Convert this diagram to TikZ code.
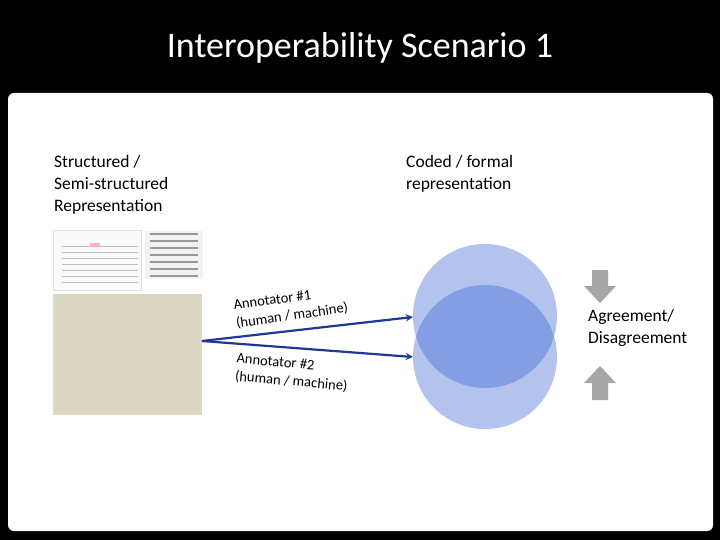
\documentclass[tikz,border=0pt]{standalone}
\usepackage{fontspec}
\setmainfont{Carlito}
\begin{document}
\begin{tikzpicture}[x=1pt,y=-1pt,
  lbl/.style={align=left,anchor=north west,font=\fontsize{17.5}{22}\selectfont,inner sep=0},
  ann/.style={align=left,font=\fontsize{14.5}{18}\selectfont,inner sep=0},
  conn/.style={draw={rgb,255:red,31;green,56;blue,150},line width=2.2pt,-stealth},
  grayarrow/.style={fill={rgb,255:red,166;green,166;blue,166},draw=none}]
\fill[black] (0,0) rectangle (720,540);
\useasboundingbox (0,0) rectangle (720,540);
\fill[white,rounded corners=6] (8,93) rectangle (713,531);
\node[white,font=\fontsize{36}{40}\selectfont] (title) at (360,48) {Interoperability Scenario 1};
\node[lbl] (struct) at (54,155) {Structured /\\Semi-structured\\Representation};
\node[lbl] (coded) at (406,155) {Coded / formal\\representation};
% thumbnail
\node[draw={rgb,255:red,225;green,225;blue,225},fill={rgb,255:red,250;green,250;blue,250},minimum width=88,minimum height=60,inner sep=0,anchor=north west] (thumb) at (53,230) {};
\foreach \yy in {246,252,258,264,270,276,282}{\draw[gray!50,line width=0.6pt] (62,\yy) -- (138,\yy);}
\fill[red!30] (90,243) rectangle (100,247);
\node[fill={rgb,255:red,242;green,242;blue,242},minimum width=58,minimum height=48,inner sep=0,anchor=north west] (note) at (145,231) {};
\foreach \yy in {234,241,248,255,262,269,276}{\draw[gray!80,line width=1.2pt] (150,\yy) -- (198,\yy);}
\node[fill={rgb,255:red,220;green,216;blue,196},minimum width=149,minimum height=121,inner sep=0,anchor=north west] (doc) at (53,294) {};
\coordinate (src) at (202,341);
\coordinate (t1) at (413,317);
\coordinate (t2) at (413,357);
\fill[fill={rgb,255:red,180;green,194;blue,238}] (485,357) circle (72);
\fill[fill={rgb,255:red,180;green,194;blue,238}] (485,316) circle (72);
\begin{scope}
\clip (485,357) circle (72);
\fill[fill={rgb,255:red,132;green,158;blue,228}] (485,316) circle (72);
\end{scope}
\node (c1) at (485,316) {};
\node (c2) at (485,357) {};
\draw[conn] (src) -- (t1);
\draw[conn] (src) -- (t2);
\node[ann,rotate=8,anchor=south west] (a1) at (237,330) {Annotator \#1\\(human / machine)};
\node[ann,rotate=-5,anchor=north west] (a2) at (237,353) {Annotator \#2\\(human / machine)};
\fill[grayarrow] (592,270) -- (608,270) -- (608,286) -- (616,286) -- (600,303) -- (584,286) -- (592,286) -- cycle;
\fill[grayarrow] (592,400) -- (608,400) -- (608,383) -- (616,383) -- (600,366) -- (584,383) -- (592,383) -- cycle;
\node[lbl] (agree) at (588,309) {Agreement/\\Disagreement};
\end{tikzpicture}
\end{document}
